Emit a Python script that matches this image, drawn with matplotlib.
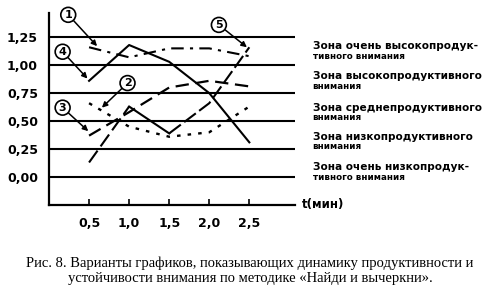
import matplotlib
matplotlib.use("Agg")
import matplotlib.pyplot as plt

# время, мин
t = [0.5, 1.0, 1.5, 2.0, 2.5]
# пять вариантов кривых
v1 = [1.16, 1.07, 1.15, 1.15, 1.08]   # штрих-пунктир
v2 = [0.66, 0.45, 0.36, 0.40, 0.63]   # точки
v3 = [0.37, 0.58, 0.80, 0.86, 0.81]   # штрихи
v4 = [0.86, 1.18, 1.03, 0.75, 0.31]   # сплошная
v5 = [0.13, 0.63, 0.39, 0.66, 1.16]   # смешанная

levels = [0.0, 0.25, 0.5, 0.75, 1.0, 1.25]
level_labels = ["0,00", "0,25", "0,50", "0,75", "1,00", "1,25"]
xtick_labels = ["0,5", "1,0", "1,5", "2,0", "2,5"]

zones = ["Зона очень высокопродук-", "Зона высокопродуктивного", "Зона среднепродуктивного",
         "Зона низкопродуктивного", "Зона очень низкопродук-"]
zones2 = ["тивного внимания", "внимания", "внимания", "внимания", "тивного внимания"]
zone_y = [1.17, 0.90, 0.62, 0.36, 0.09]

caption = ("Рис. 8. Варианты графиков, показывающих динамику продуктивности и\n"
           "устойчивости внимания по методике «Найди и вычеркни».")

fig = plt.figure(figsize=(5, 2.92), dpi=100)
ax = fig.add_axes([0.098, 0.298, 0.492, 0.657])
ax.set_xlim(0, 3.07)
ax.set_ylim(-0.25, 1.465)

for s in ["top", "right"]:
    ax.spines[s].set_visible(False)
ax.spines["left"].set_linewidth(1.6)
ax.spines["bottom"].set_linewidth(1.6)

for lv in levels:
    ax.axhline(lv, color="black", lw=1.5)

ax.set_yticks(levels)
ax.set_yticklabels(level_labels, fontsize=9, fontweight="bold")
ax.tick_params(axis="y", length=0, pad=8)
ax.set_xticks(t)
ax.set_xticklabels(xtick_labels, fontsize=9, fontweight="bold")
ax.tick_params(axis="x", direction="in", length=4, width=1.2, pad=9)

k = "black"
ax.plot(t, v1, color=k, lw=1.5, dashes=(6, 3, 1.5, 3))
ax.plot(t, v2, color=k, lw=1.7, dashes=(1.5, 3))
ax.plot(t, v3, color=k, lw=1.6, dashes=(6, 3))
ax.plot(t, v4, color=k, lw=1.5)
ax.plot(t[:2], v5[:2], color=k, lw=1.5, dashes=(7, 2.5))
ax.plot(t[1:3], v5[1:3], color=k, lw=1.5)
ax.plot(t[2:], v5[2:], color=k, lw=1.5, dashes=(7, 2))

# номера кривых
marks = [("1", 0.24, 1.45, 0.6, 1.17), ("4", 0.17, 1.12, 0.48, 0.88),
         ("2", 0.98, 0.84, 0.66, 0.62), ("3", 0.17, 0.62, 0.49, 0.41),
         ("5", 2.12, 1.36, 2.47, 1.16)]
for num, xt, yt, xa, ya in marks:
    ax.annotate(num, xy=(xa, ya), xytext=(xt, yt), ha="center", va="center",
                fontsize=8, fontweight="bold", annotation_clip=False,
                bbox=dict(boxstyle="circle,pad=0.22", fc="white", ec="black", lw=1.2),
                arrowprops=dict(arrowstyle="-|>", color="black", lw=1.1,
                                mutation_scale=8, shrinkA=0, shrinkB=0))

for z1, z2, zy in zip(zones, zones2, zone_y):
    ax.text(3.29, zy, z1, fontsize=7.6, fontweight="bold", ha="left", va="center",
            clip_on=False)
    ax.text(3.29, zy - 0.09, z2, fontsize=6.3, fontweight="bold", ha="left", va="center",
            clip_on=False)

ax.text(3.16, -0.25, "t(мин)", fontsize=8.5, fontweight="bold", ha="left", va="center",
        clip_on=False)

fig.text(0.5, 0.072, caption, ha="center", va="center", fontsize=10.5,
         family="Liberation Serif", linespacing=1.15)

fig.savefig("out.png", dpi=100)
